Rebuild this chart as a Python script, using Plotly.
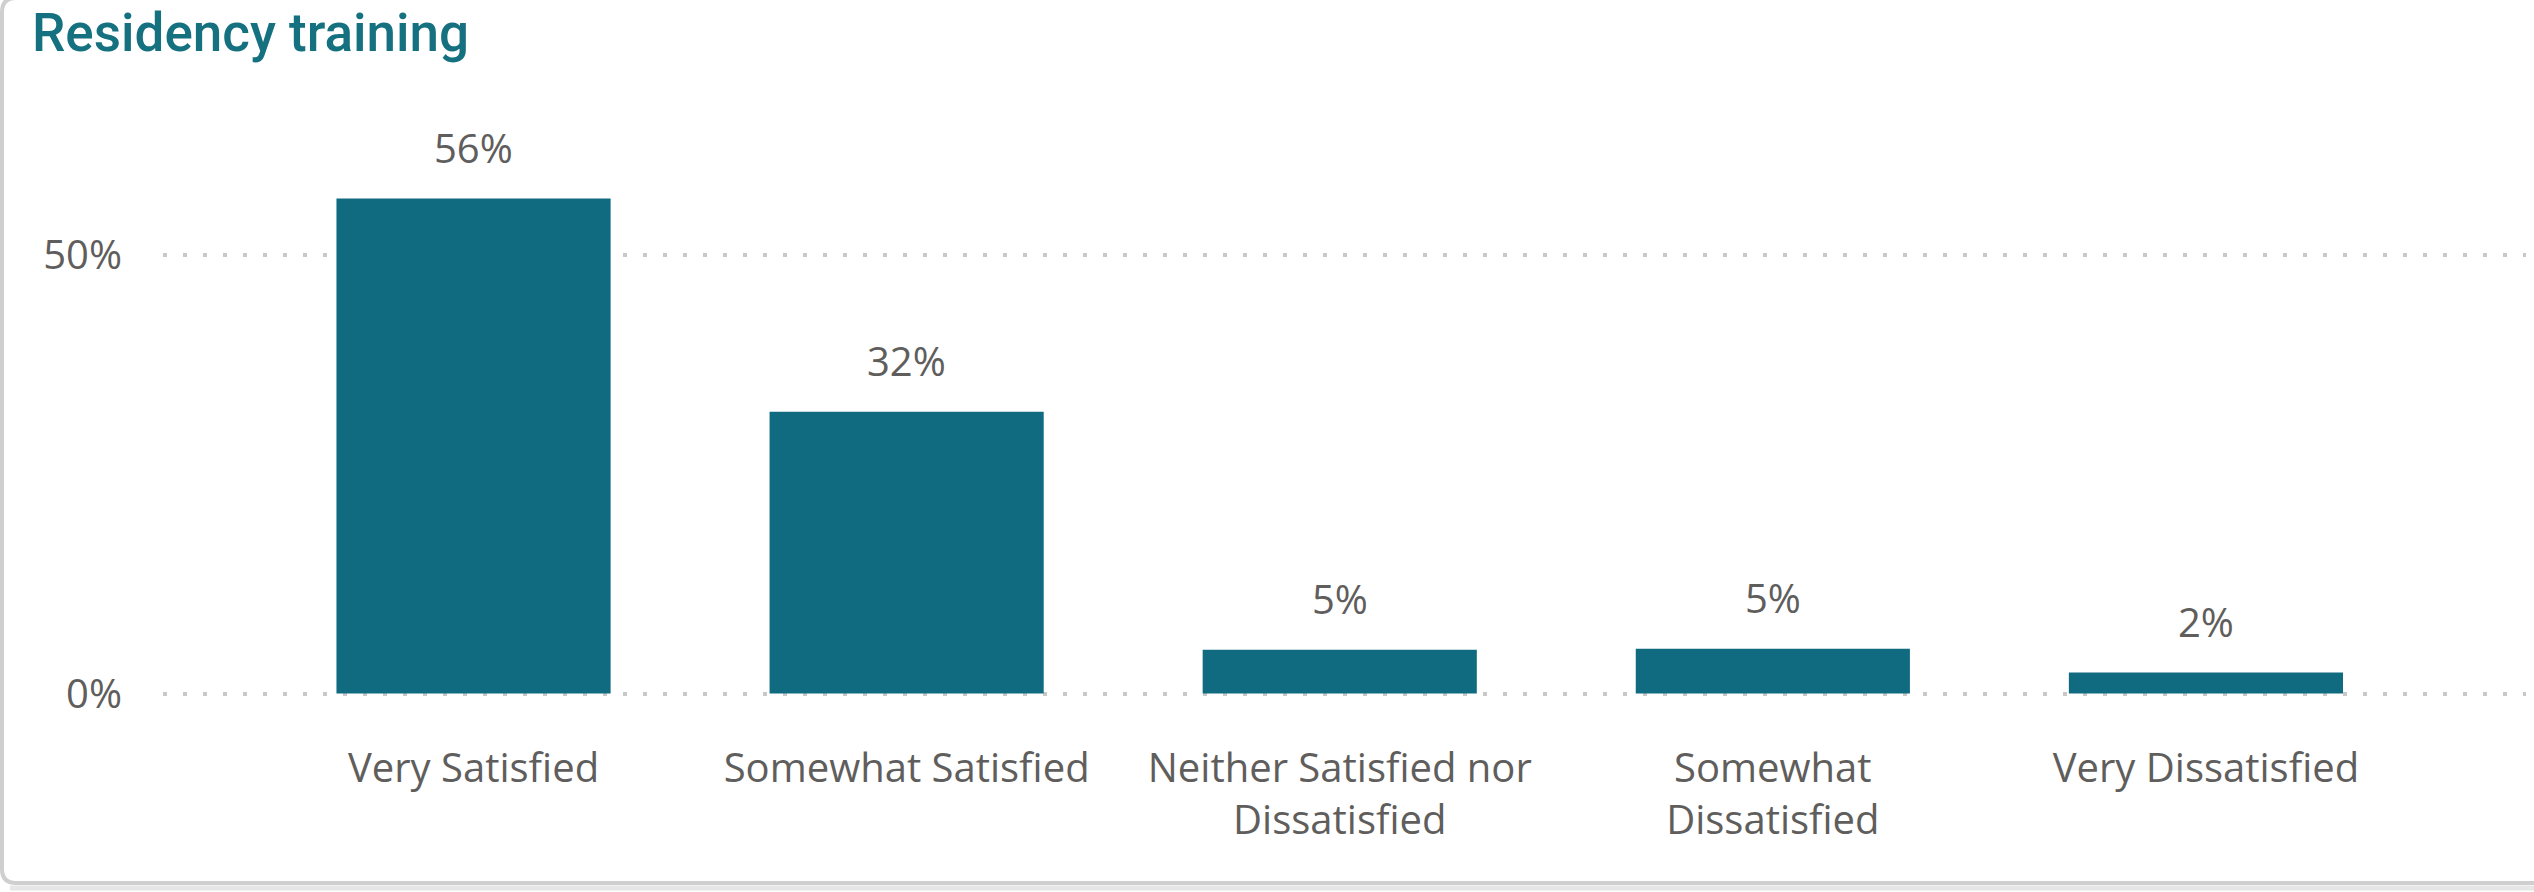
import plotly.graph_objects as go

# Survey responses: satisfaction with residency training
categories = [
    "Very Satisfied",
    "Somewhat Satisfied",
    "Neither Satisfied nor Dissatisfied",
    "Somewhat Dissatisfied",
    "Very Dissatisfied",
]
tick_labels = [
    "Very Satisfied",
    "Somewhat Satisfied",
    "Neither Satisfied nor<br>Dissatisfied",
    "Somewhat<br>Dissatisfied",
    "Very Dissatisfied",
]
shares = [0.564, 0.321, 0.050, 0.051, 0.024]
y_ticks = [0, 0.5]

W, H = 2534, 892
L, R, T, B = 163, 8, 167, 194

BAR = "#106B81"
TEXT = "#605E5C"
TITLE = "#15707F"
FONT = "Open Sans"

fig = go.Figure(
    go.Bar(
        x=categories,
        y=shares,
        width=0.633,
        marker=dict(color=BAR, line=dict(width=0)),
        hoverinfo="skip",
    )
)

# value labels above each bar
for c, v in zip(categories, shares):
    fig.add_annotation(
        x=c, y=v, text=f"{v:.0%}", showarrow=False,
        yanchor="middle", yshift=51,
        font=dict(family=FONT, size=40, color=TEXT),
    )

# card outline (rounded corner, clipped by the page edges)
pw, ph = W - L - R, H - T - B
def px(x):
    return (x - L) / pw
def py(y):
    return (H - B - y) / ph

r = 14
outline = (
    f"M {px(W + 20)},{py(-2)} L {px(2 + r)},{py(-2)} "
    f"Q {px(2)},{py(-2)} {px(2)},{py(-2 + r)} "
    f"L {px(2)},{py(883 - r)} Q {px(2)},{py(883)} {px(2 + r)},{py(883)} "
    f"L {px(W + 20)},{py(883)}"
)
shadow = f"M {px(10)},{py(888)} L {px(W + 20)},{py(888)}"
fig.add_shape(type="path", path=shadow, xref="paper", yref="paper",
              line=dict(color="#E6E6E6", width=5), layer="below")
fig.add_shape(type="path", path=outline, xref="paper", yref="paper",
              line=dict(color="#CFCFCF", width=4), layer="below")

fig.update_layout(
    width=W, height=H,
    margin=dict(l=L, r=R, t=T, b=B, pad=0),
    paper_bgcolor="white",
    plot_bgcolor="white",
    showlegend=False,
    title=dict(
        text="Residency training",
        x=32 / W, xanchor="left", xref="container",
        y=1 - 32 / H, yanchor="middle", yref="container",
        font=dict(family="Roboto", size=53, color=TITLE, weight=500),
    ),
    xaxis=dict(
        type="category",
        range=[-0.717, 4.739],
        tickmode="array",
        tickvals=categories,
        ticktext=tick_labels,
        showgrid=False, showline=False, zeroline=False, ticks="",
        ticklabelstandoff=43,
        tickfont=dict(family=FONT, size=40, color=TEXT),
    ),
    yaxis=dict(
        range=[-0.005, 0.6],
        tickmode="array",
        tickvals=y_ticks,
        tickformat=".0%",
        showgrid=True, gridcolor="#C8C8C8", gridwidth=4,
        griddash="4px,16px",
        showline=False, zeroline=False, ticks="",
        ticklabelstandoff=40,
        tickfont=dict(family=FONT, size=40, color=TEXT),
    ),
)

fig.write_html("out.html")
